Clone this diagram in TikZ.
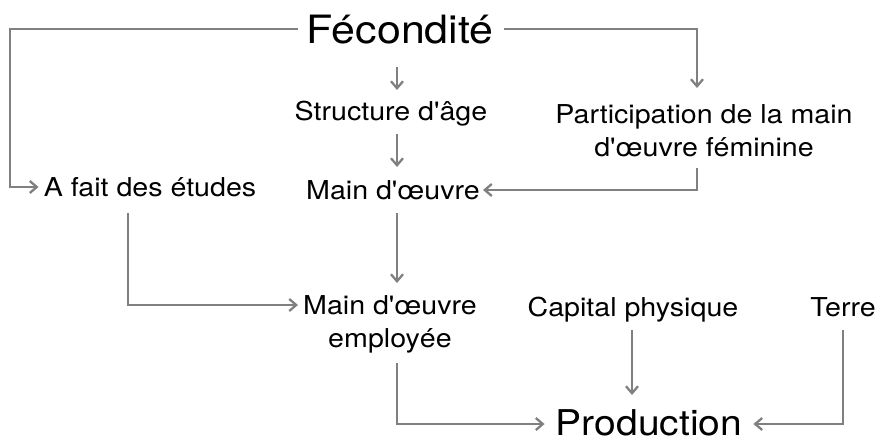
\documentclass[tikz,border=0pt]{standalone}
\usepackage{fontspec}
\setmainfont{TeX Gyre Heros}[FakeStretch=1.1, Ligatures=TeXOff]
\usetikzlibrary{arrows.meta}
\definecolor{linegray}{HTML}{808080}
\begin{document}
\begin{tikzpicture}[x=1pt,y=-1pt,
  lbl/.style={inner sep=0pt, anchor=base, font=\fontsize{26}{33}\selectfont, align=center},
  big/.style={inner sep=0pt, anchor=base, font=\fontsize{39}{44}\selectfont},
  prodfont/.style={inner sep=0pt, anchor=base, font=\fontsize{35.5}{40}\selectfont},
  arr/.style={draw=linegray, line width=2.3pt, -{Straight Barb[length=7pt,width=12pt]}}]
\useasboundingbox (0,0) rectangle (875,440);

% nodes (multi-line nodes: base = last line)
\node[big] (fec) at (400,43) {Fécondité};
\node[lbl] (age) at (391,120) {Structure d'âge};
\node[lbl] (part) at (704,156) {Participation de la main\\d'œuvre féminine};
\node[lbl] (etu) at (150,196) {A fait des études};
\node[lbl] (main) at (393,199) {Main d'œuvre};
\node[lbl] (emp) at (390,347) {Main d'œuvre\\employée};
\node[lbl] (cap) at (633,316) {Capital physique};
\node[lbl] (terre) at (843,316) {Terre};
\node[prodfont] (prod) at (649,435) {Production};

% connector points
\coordinate (fL) at ([xshift=-8pt,yshift=14pt]fec.base west);
\coordinate (fR) at ([xshift=10pt,yshift=14pt]fec.base east);
\coordinate (eL) at ([xshift=-5pt,yshift=9pt]etu.base west);
\coordinate (lx) at (10,0);
\coordinate (pT) at ([xshift=-7pt,yshift=68pt]part.base);
\coordinate (pB) at ([xshift=-7pt,yshift=-12pt]part.base);
\coordinate (mR) at ([xshift=3pt,yshift=9pt]main.base east);
\coordinate (eB) at ([xshift=-22pt,yshift=-17pt]etu.base);
\coordinate (empL) at ([xshift=-5pt,yshift=42pt]emp.base west |- emp.base);
\coordinate (empT) at ([xshift=7pt,yshift=64pt]emp.base);
\coordinate (empB) at ([xshift=7pt,yshift=-16pt]emp.base);
\coordinate (prodL) at ([xshift=-11pt,yshift=11pt]prod.base west);
\coordinate (prodR) at ([xshift=11pt,yshift=11pt]prod.base east);

% connectors
\draw[arr] (fL) -| (lx |- eL) -- (eL);
\draw[arr] (fR) -| (pT);
\draw[arr] ([xshift=-3pt,yshift=-24pt]fec.base) -- ([xshift=6pt,yshift=30pt]age.base);
\draw[arr] ([xshift=6pt,yshift=-14pt]age.base) -- ([xshift=4pt,yshift=32pt]main.base);
\draw[arr] (pB) |- (mR);
\draw[arr] (eB) |- (empL);
\draw[arr] ([xshift=4pt,yshift=-14pt]main.base) -- (empT);
\draw[arr] (empB) |- (prodL);
\draw[arr] ([xshift=-1pt,yshift=-14pt]cap.base) -- ([xshift=-17pt,yshift=40pt]prod.base);
\draw[arr] ([yshift=-14pt]terre.base) |- (prodR);
\end{tikzpicture}
\end{document}
